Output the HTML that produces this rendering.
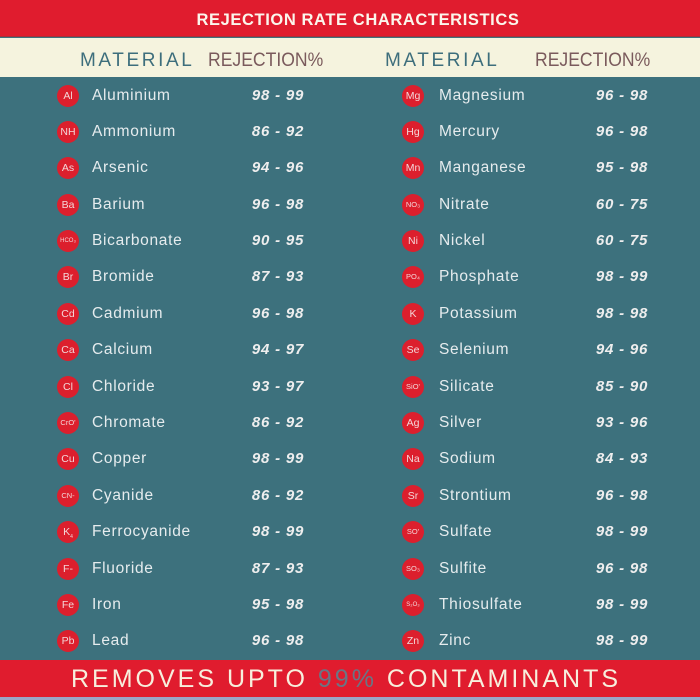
<!DOCTYPE html>
<html><head><meta charset="utf-8"><style>
*{margin:0;padding:0;box-sizing:border-box}
html,body{width:700px;height:700px;overflow:hidden;background:#3d717d}
body{position:relative;font-family:"Liberation Sans",sans-serif}
.top{position:absolute;left:0;top:0;width:700px;height:37px;background:#e01c2e;border-bottom:1px solid #a8303a}
.title{position:absolute;left:0;top:0;width:716px;height:38px;line-height:40px;text-align:center;color:#fbf6ec;font-weight:bold;font-size:16.5px;letter-spacing:0.6px}
.cream{position:absolute;left:0;top:38px;width:700px;height:39px;background:#f5f3de}
.h{position:absolute;top:50px;line-height:22px;white-space:nowrap}
.mat{color:#3d6e7c;font-size:19px;letter-spacing:2.6px}
.rej{color:#7a5a5c;font-size:19px;letter-spacing:0;transform:scaleX(0.925);transform-origin:0 50%}
.teal{position:absolute;left:0;top:77px;width:700px;height:583px;background:#3d717d}
.bot{position:absolute;left:0;top:660px;width:700px;height:37px;background:#e01c2e}
.botline{position:absolute;left:0;top:697px;width:700px;height:3px;background:#9aa6c8}
.bt{position:absolute;left:0;top:663px;width:692px;text-align:center;color:#f7efdd;font-size:25px;line-height:32px;letter-spacing:3px;white-space:nowrap}
.bt span{color:#6a7584}
.c{position:absolute;width:22px;height:22px;border-radius:50%;background:#dc1f2d;color:#f3d6d8;font-size:10.5px;line-height:22px;text-align:center;white-space:nowrap;overflow:hidden;letter-spacing:0}
.c.s{font-size:7.5px}
.c.xs{font-size:6px}
.n{position:absolute;color:#e6ecee;font-size:15.5px;line-height:22px;letter-spacing:0.7px;white-space:nowrap}
.v{position:absolute;width:80px;text-align:center;color:#eeeeee;font-size:15px;line-height:22px;font-weight:bold;font-style:italic;letter-spacing:0.8px;white-space:nowrap}
</style></head><body>
<div class="top"></div>
<div class="title">REJECTION RATE CHARACTERISTICS</div>
<div class="cream"></div>
<div class="h mat" style="left:80px">MATERIAL</div>
<div class="h rej" style="left:208px">REJECTION%</div>
<div class="h mat" style="left:385px">MATERIAL</div>
<div class="h rej" style="left:535px">REJECTION%</div>
<div class="teal"></div>

<!-- left column -->
<div class="c" style="left:57px;top:85px">Al</div><div class="n" style="left:92px;top:85px">Aluminium</div><div class="v" style="left:238px;top:85px">98 - 99</div>
<div class="c" style="left:57px;top:121px">NH</div><div class="n" style="left:92px;top:121px">Ammonium</div><div class="v" style="left:238px;top:121px">86 - 92</div>
<div class="c" style="left:57px;top:157px">As</div><div class="n" style="left:92px;top:157px">Arsenic</div><div class="v" style="left:238px;top:157px">94 - 96</div>
<div class="c" style="left:57px;top:194px">Ba</div><div class="n" style="left:92px;top:194px">Barium</div><div class="v" style="left:238px;top:194px">96 - 98</div>
<div class="c xs" style="left:57px;top:230px">HCO₃</div><div class="n" style="left:92px;top:230px">Bicarbonate</div><div class="v" style="left:238px;top:230px">90 - 95</div>
<div class="c" style="left:57px;top:266px">Br</div><div class="n" style="left:92px;top:266px">Bromide</div><div class="v" style="left:238px;top:266px">87 - 93</div>
<div class="c" style="left:57px;top:303px">Cd</div><div class="n" style="left:92px;top:303px">Cadmium</div><div class="v" style="left:238px;top:303px">96 - 98</div>
<div class="c" style="left:57px;top:339px">Ca</div><div class="n" style="left:92px;top:339px">Calcium</div><div class="v" style="left:238px;top:339px">94 - 97</div>
<div class="c" style="left:57px;top:376px">Cl</div><div class="n" style="left:92px;top:376px">Chloride</div><div class="v" style="left:238px;top:376px">93 - 97</div>
<div class="c s" style="left:57px;top:412px">CrO'</div><div class="n" style="left:92px;top:412px">Chromate</div><div class="v" style="left:238px;top:412px">86 - 92</div>
<div class="c" style="left:57px;top:448px">Cu</div><div class="n" style="left:92px;top:448px">Copper</div><div class="v" style="left:238px;top:448px">98 - 99</div>
<div class="c s" style="left:57px;top:485px">CN-</div><div class="n" style="left:92px;top:485px">Cyanide</div><div class="v" style="left:238px;top:485px">86 - 92</div>
<div class="c" style="left:57px;top:521px">K<sub style="font-size:5px">4</sub></div><div class="n" style="left:92px;top:521px">Ferrocyanide</div><div class="v" style="left:238px;top:521px">98 - 99</div>
<div class="c" style="left:57px;top:558px">F-</div><div class="n" style="left:92px;top:558px">Fluoride</div><div class="v" style="left:238px;top:558px">87 - 93</div>
<div class="c" style="left:57px;top:594px">Fe</div><div class="n" style="left:92px;top:594px">Iron</div><div class="v" style="left:238px;top:594px">95 - 98</div>
<div class="c" style="left:57px;top:630px">Pb</div><div class="n" style="left:92px;top:630px">Lead</div><div class="v" style="left:238px;top:630px">96 - 98</div>

<!-- right column -->
<div class="c" style="left:402px;top:85px">Mg</div><div class="n" style="left:439px;top:85px">Magnesium</div><div class="v" style="left:582px;top:85px">96 - 98</div>
<div class="c" style="left:402px;top:121px">Hg</div><div class="n" style="left:439px;top:121px">Mercury</div><div class="v" style="left:582px;top:121px">96 - 98</div>
<div class="c" style="left:402px;top:157px">Mn</div><div class="n" style="left:439px;top:157px">Manganese</div><div class="v" style="left:582px;top:157px">95 - 98</div>
<div class="c s" style="left:402px;top:194px">NO₃</div><div class="n" style="left:439px;top:194px">Nitrate</div><div class="v" style="left:582px;top:194px">60 - 75</div>
<div class="c" style="left:402px;top:230px">Ni</div><div class="n" style="left:439px;top:230px">Nickel</div><div class="v" style="left:582px;top:230px">60 - 75</div>
<div class="c s" style="left:402px;top:266px">PO₄</div><div class="n" style="left:439px;top:266px">Phosphate</div><div class="v" style="left:582px;top:266px">98 - 99</div>
<div class="c" style="left:402px;top:303px">K</div><div class="n" style="left:439px;top:303px">Potassium</div><div class="v" style="left:582px;top:303px">98 - 98</div>
<div class="c" style="left:402px;top:339px">Se</div><div class="n" style="left:439px;top:339px">Selenium</div><div class="v" style="left:582px;top:339px">94 - 96</div>
<div class="c s" style="left:402px;top:376px">SiO'</div><div class="n" style="left:439px;top:376px">Silicate</div><div class="v" style="left:582px;top:376px">85 - 90</div>
<div class="c" style="left:402px;top:412px">Ag</div><div class="n" style="left:439px;top:412px">Silver</div><div class="v" style="left:582px;top:412px">93 - 96</div>
<div class="c" style="left:402px;top:448px">Na</div><div class="n" style="left:439px;top:448px">Sodium</div><div class="v" style="left:582px;top:448px">84 - 93</div>
<div class="c" style="left:402px;top:485px">Sr</div><div class="n" style="left:439px;top:485px">Strontium</div><div class="v" style="left:582px;top:485px">96 - 98</div>
<div class="c s" style="left:402px;top:521px">SO'</div><div class="n" style="left:439px;top:521px">Sulfate</div><div class="v" style="left:582px;top:521px">98 - 99</div>
<div class="c s" style="left:402px;top:558px">SO₃</div><div class="n" style="left:439px;top:558px">Sulfite</div><div class="v" style="left:582px;top:558px">96 - 98</div>
<div class="c xs" style="left:402px;top:594px">S₂O₃</div><div class="n" style="left:439px;top:594px">Thiosulfate</div><div class="v" style="left:582px;top:594px">98 - 99</div>
<div class="c" style="left:402px;top:630px">Zn</div><div class="n" style="left:439px;top:630px">Zinc</div><div class="v" style="left:582px;top:630px">98 - 99</div>

<div class="bot"></div>
<div class="botline"></div>
<div class="bt">REMOVES UPTO <span>99%</span> CONTAMINANTS</div>
</body></html>
